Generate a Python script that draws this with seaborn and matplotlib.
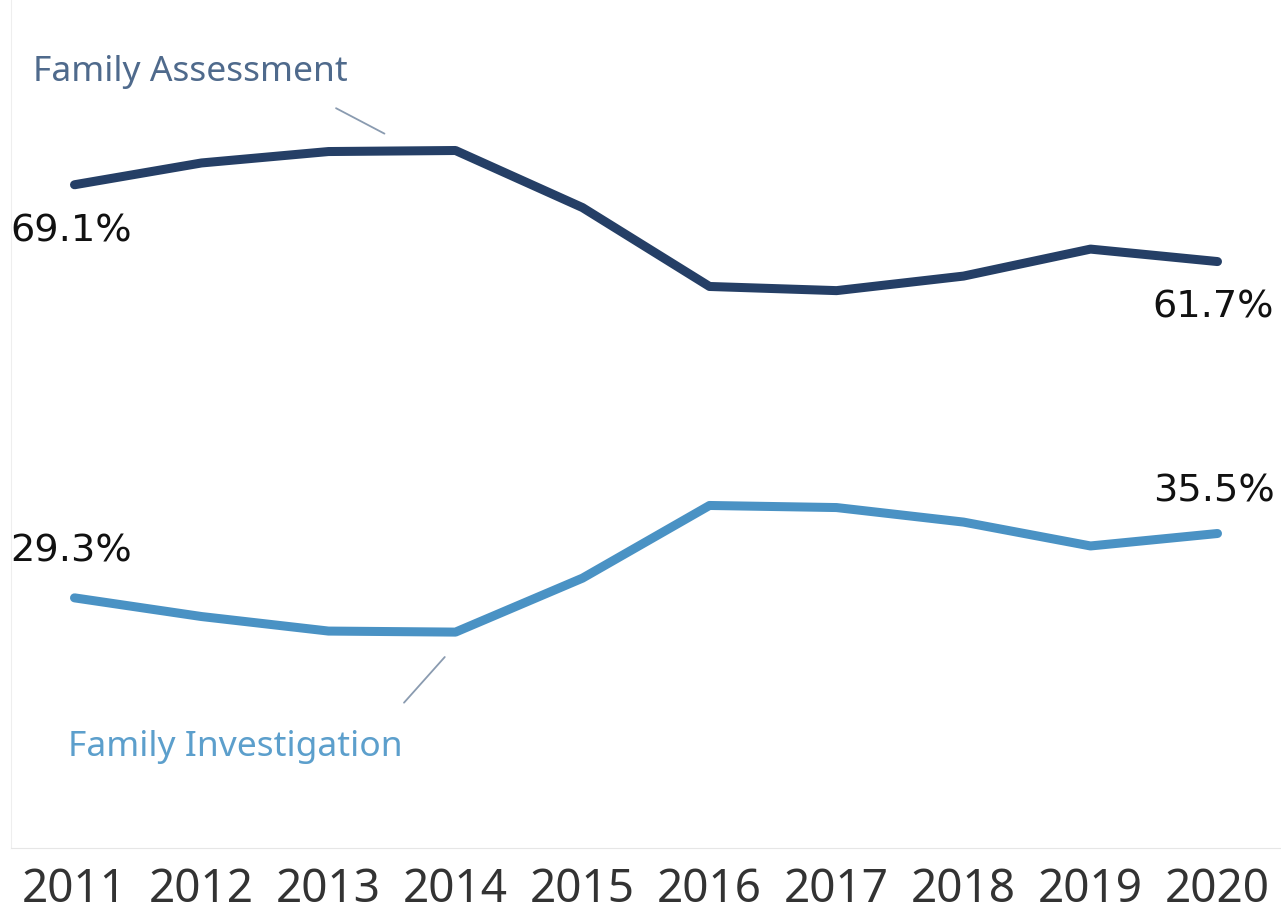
import matplotlib
matplotlib.use("Agg")
import matplotlib.pyplot as plt
import seaborn as sns
import pandas as pd
import numpy as np

years = [2011, 2012, 2013, 2014, 2015, 2016, 2017, 2018, 2019, 2020]
assessment = [69.1, 71.2, 72.3, 72.4, 66.9, 59.3, 58.9, 60.3, 62.9, 61.7]
investigation = [29.3, 27.5, 26.1, 26.0, 31.2, 38.2, 38.0, 36.6, 34.3, 35.5]
series_names = ["Family Assessment", "Family Investigation"]
colors = ["#253f66", "#4a92c4"]
label_colors = ["#4f6a8c", "#5c9fcc"]

sns.set_style("white")
plt.rcParams["font.family"] = ["Noto Sans", "DejaVu Sans"]

df = pd.DataFrame({
    "idx": list(range(len(years))) * 2,
    "value": assessment + investigation,
    "series": [series_names[0]] * len(years) + [series_names[1]] * len(years),
})

fig = plt.figure(figsize=(12.81, 9.13), dpi=100)
ax = fig.add_axes([11 / 1281, 65 / 913, 1 - 11 / 1281, 848 / 913])

sns.lineplot(data=df, x="idx", y="value", hue="series", palette=colors,
             linewidth=6.5, legend=False, ax=ax, solid_capstyle="round",
             solid_joinstyle="round")

ax.set_xlim(-0.5, len(years) - 0.5)
ax.set_ylim(5.2, 86.9)
ax.set_xticks(range(len(years)))
ax.set_xticklabels([str(y) for y in years], fontsize=33, color="#333333")
ax.set_xticks(np.arange(0.5, len(years) - 0.5, 1.0), minor=True)
ax.tick_params(axis="x", which="major", length=0, pad=14)
ax.tick_params(axis="x", which="minor", length=12, color="#e6e6e6", width=1)
ax.set_yticks([])
ax.set_xlabel("")
ax.set_ylabel("")
for s in ["top", "right"]:
    ax.spines[s].set_visible(False)
ax.spines["left"].set_color("#eeeeee")
ax.spines["bottom"].set_color("#e6e6e6")

pct_font = dict(fontsize=27.5, color="#111111", family=["DejaVu Sans"])
ax.annotate(f"{assessment[0]}%", (0, assessment[0]), xytext=(-3, -47),
            textcoords="offset pixels", ha="center", va="center", **pct_font)
ax.annotate(f"{assessment[-1]}%", (len(years) - 1, assessment[-1]), xytext=(-4, -46),
            textcoords="offset pixels", ha="center", va="center", **pct_font)
ax.annotate(f"{investigation[0]}%", (0, investigation[0]), xytext=(-3, 46),
            textcoords="offset pixels", ha="center", va="center", **pct_font)
ax.annotate(f"{investigation[-1]}%", (len(years) - 1, investigation[-1]), xytext=(-4, 42),
            textcoords="offset pixels", ha="center", va="center", **pct_font)

# series name labels with leader lines
ax.text(-0.33, 80.0, series_names[0], ha="left", va="center", fontsize=25.5, color=label_colors[0])
ax.annotate("", xy=(2.46, 73.9), xytext=(2.04, 76.6),
            arrowprops=dict(arrowstyle="-", color="#8a9bb0", lw=1.3))
ax.text(-0.055, 14.9, series_names[1], ha="left", va="center", fontsize=25.5, color=label_colors[1])
ax.annotate("", xy=(2.93, 23.8), xytext=(2.58, 19.0),
            arrowprops=dict(arrowstyle="-", color="#8a9bb0", lw=1.3))

fig.savefig("out.png", dpi=100)
